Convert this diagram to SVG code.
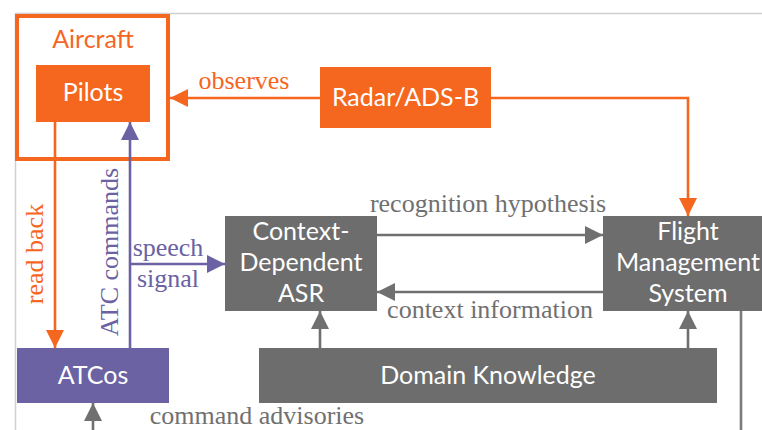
<svg xmlns="http://www.w3.org/2000/svg" width="762" height="430" viewBox="0 0 762 430">
<style>
.node{font-family:Lato,"Open Sans","Liberation Sans",sans-serif;font-size:25px;fill:#ffffff;text-anchor:middle}
.lbl{font-family:"Liberation Serif","Times New Roman",serif;font-size:26px}
.o{stroke:#F5661F;stroke-width:2.6;fill:none}
.p{stroke:#6A62A3;stroke-width:2.6;fill:none}
.g{stroke:#707070;stroke-width:2.6;fill:none}
</style>
<defs>
<marker id="ao" markerUnits="userSpaceOnUse" markerWidth="18" markerHeight="18" refX="18" refY="9" orient="auto"><path d="M0,0 L18,9 L0,18 z" fill="#F5661F"/></marker>
<marker id="ap" markerUnits="userSpaceOnUse" markerWidth="18" markerHeight="18" refX="18" refY="9" orient="auto"><path d="M0,0 L18,9 L0,18 z" fill="#6A62A3"/></marker>
<marker id="ag" markerUnits="userSpaceOnUse" markerWidth="18" markerHeight="18" refX="18" refY="9" orient="auto"><path d="M0,0 L18,9 L0,18 z" fill="#707070"/></marker>
</defs>
<rect width="762" height="430" fill="#ffffff"/>
<path d="M15.5,430 V13.5 H762" stroke="#d0d0d0" stroke-width="1.5" fill="none"/>

<g id="aircraft">
<rect x="17" y="16" width="151" height="143" fill="none" stroke="#F5661F" stroke-width="4"/>
<text x="93" y="48" class="node" style="fill:#F5661F">Aircraft</text>
</g>
<g id="pilots">
<rect x="36" y="65" width="114" height="57" fill="#F5661F"/>
<text x="93" y="101" class="node">Pilots</text>
</g>
<g id="radar">
<rect x="320" y="67" width="171" height="61" fill="#F5661F"/>
<text x="405.5" y="106" class="node">Radar/ADS-B</text>
</g>
<g id="asr">
<rect x="225" y="216" width="152" height="95" fill="#6D6D6D"/>
<text x="301" y="240" class="node">Context-</text>
<text x="301" y="271" class="node">Dependent</text>
<text x="301" y="302" class="node">ASR</text>
</g>
<g id="fms">
<rect x="603" y="216" width="159" height="95" fill="#6D6D6D"/>
<text x="688" y="240" class="node">Flight</text>
<text x="688" y="271" class="node">Management</text>
<text x="688" y="302" class="node">System</text>
</g>
<g id="domain">
<rect x="259" y="348" width="458" height="55" fill="#6D6D6D"/>
<text x="488" y="384" class="node">Domain Knowledge</text>
</g>
<g id="atcos">
<rect x="17" y="348" width="152" height="55" fill="#6A62A3"/>
<text x="93" y="384" class="node">ATCos</text>
</g>

<g id="connectors">
<line x1="320" y1="98" x2="170" y2="98" class="o" marker-end="url(#ao)"/>
<path d="M491,98 H688 V216" class="o" marker-end="url(#ao)"/>
<line x1="55" y1="122" x2="55" y2="348" class="o" marker-end="url(#ao)"/>
<line x1="130" y1="348" x2="130" y2="122" class="p" marker-end="url(#ap)"/>
<line x1="130" y1="264" x2="225" y2="264" class="p" marker-end="url(#ap)"/>
<line x1="377" y1="235" x2="603" y2="235" class="g" marker-end="url(#ag)"/>
<line x1="603" y1="292" x2="377" y2="292" class="g" marker-end="url(#ag)"/>
<line x1="320" y1="348" x2="320" y2="311" class="g" marker-end="url(#ag)"/>
<line x1="688" y1="348" x2="688" y2="311" class="g" marker-end="url(#ag)"/>
<line x1="741" y1="311" x2="741" y2="432" stroke="#7a7a7a" stroke-width="2.6"/>
<line x1="93" y1="432" x2="93" y2="403" class="g" marker-end="url(#ag)"/>

<text x="244" y="89" class="lbl" fill="#F5661F" text-anchor="middle">observes</text>
<text x="488" y="212" class="lbl" fill="#707070" text-anchor="middle">recognition hypothesis</text>
<text x="490" y="318" class="lbl" fill="#707070" text-anchor="middle">context information</text>
<text x="168" y="256" class="lbl" fill="#6A62A3" text-anchor="middle">speech</text>
<text x="168" y="287" class="lbl" fill="#6A62A3" text-anchor="middle">signal</text>
<text x="257" y="424" class="lbl" fill="#707070" text-anchor="middle">command advisories</text>
<text transform="translate(43,254) rotate(-90)" class="lbl" fill="#F5661F" text-anchor="middle">read back</text>
<text transform="translate(118,252) rotate(-90)" class="lbl" fill="#6A62A3" text-anchor="middle">ATC commands</text>
</g>
</svg>
